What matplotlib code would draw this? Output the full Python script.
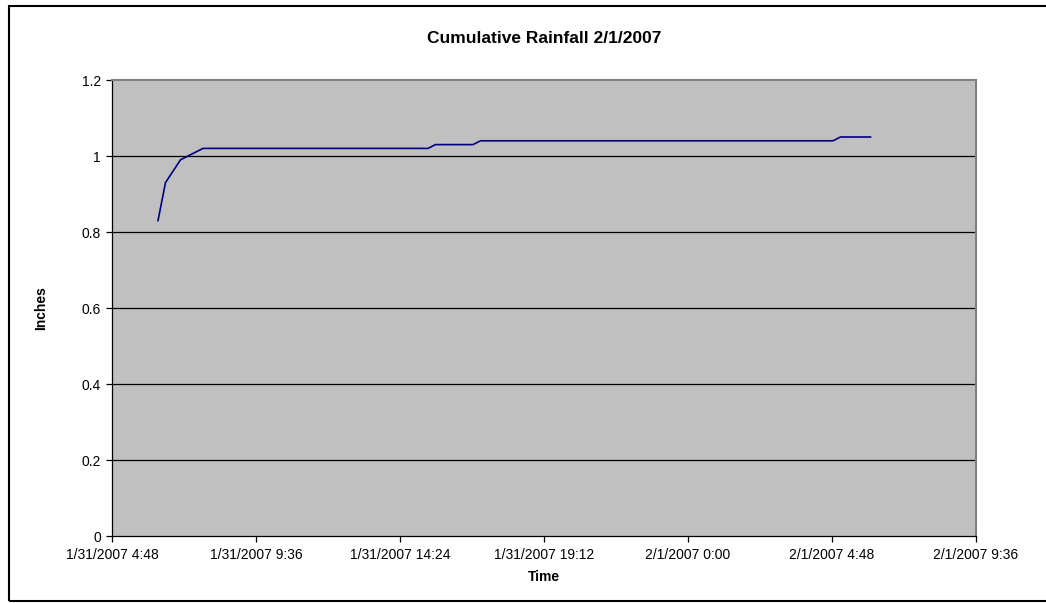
import matplotlib
matplotlib.use("Agg")
import matplotlib.pyplot as plt
import matplotlib.dates as mdates
from matplotlib.patches import Rectangle
from datetime import datetime

plt.rcParams['font.family'] = ['Liberation Sans', 'DejaVu Sans']

# Gauge readings (cumulative inches) at the times the total changed slope
times = ["1/31/2007 6:20", "1/31/2007 6:35", "1/31/2007 6:50", "1/31/2007 7:05",
         "1/31/2007 7:20", "1/31/2007 7:35", "1/31/2007 7:50", "1/31/2007 15:20",
         "1/31/2007 15:35", "1/31/2007 16:50", "1/31/2007 17:05", "2/1/2007 4:50",
         "2/1/2007 5:05", "2/1/2007 6:05"]
inches = [0.83, 0.93, 0.96, 0.99, 1.00, 1.01, 1.02, 1.02,
          1.03, 1.03, 1.04, 1.04, 1.05, 1.05]

x_tick_labels = ["1/31/2007 4:48", "1/31/2007 9:36", "1/31/2007 14:24",
                 "1/31/2007 19:12", "2/1/2007 0:00", "2/1/2007 4:48",
                 "2/1/2007 9:36"]
y_ticks = [0, 0.2, 0.4, 0.6, 0.8, 1.0, 1.2]
y_tick_labels = ["0", "0.2", "0.4", "0.6", "0.8", "1", "1.2"]

fmt = "%m/%d/%Y %H:%M"
t = [datetime.strptime(s, fmt) for s in times]
xt = [mdates.date2num(datetime.strptime(s, fmt)) for s in x_tick_labels]

W, H = 1046, 603
fig = plt.figure(figsize=(W / 100, H / 100), dpi=100)

# chart frame
fig.patches.append(Rectangle((9 / W, 1 - 601 / H), 1.2, (601 - 6) / H,
                             transform=fig.transFigure, fill=False,
                             edgecolor='black', linewidth=1.5))

ax = fig.add_axes([112 / W, 1 - 536 / H, 864 / W, 456 / H])
ax.set_facecolor('#C0C0C0')

ax.plot(mdates.date2num(t), inches, color='#000080', linewidth=1.2, zorder=3)

ax.set_xlim(xt[0], xt[-1])
ax.set_ylim(0, 1.2)
ax.set_xticks(xt)
ax.set_xticklabels(x_tick_labels)
ax.set_yticks(y_ticks)
ax.set_yticklabels(y_tick_labels)

for v in y_ticks[1:-1]:
    ax.axhline(v, color='black', linewidth=0.9, zorder=2)

for side in ('top', 'right'):
    ax.spines[side].set_color('#808080')
    ax.spines[side].set_linewidth(1.5)
for side in ('left', 'bottom'):
    ax.spines[side].set_color('black')
    ax.spines[side].set_linewidth(0.9)

ax.tick_params(axis='both', direction='out', length=4, width=0.9,
               labelsize=10, colors='black')
ax.tick_params(axis='x', pad=4.5)
ax.tick_params(axis='y', pad=4)

ax.set_title("Cumulative Rainfall 2/1/2007", fontsize=12.5, fontweight='bold',
             pad=26.5)
ax.set_xlabel("Time", fontsize=10, fontweight='bold', labelpad=6)
ax.set_ylabel("Inches", fontsize=10, fontweight='bold', labelpad=24)

fig.savefig("out.png", dpi=100)
